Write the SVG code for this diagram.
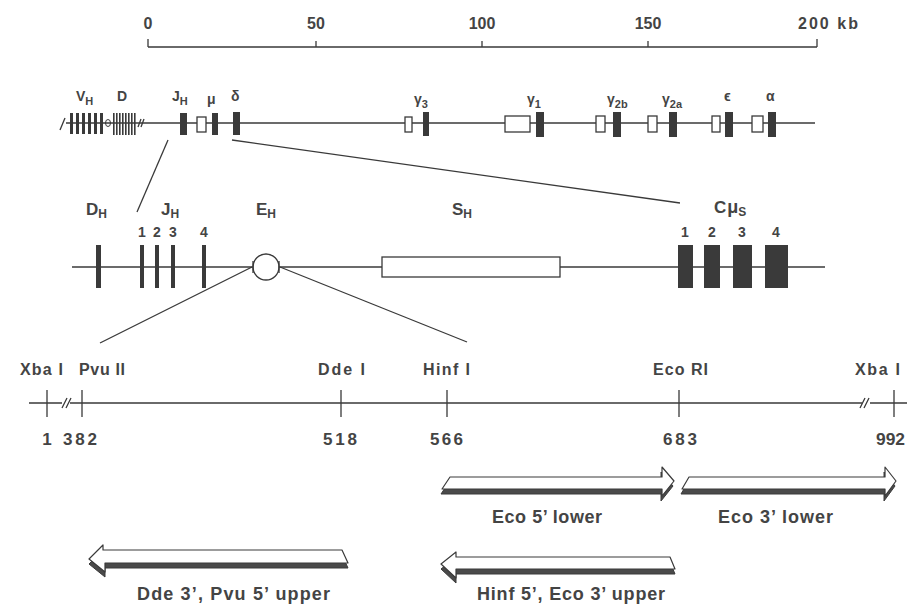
<svg xmlns="http://www.w3.org/2000/svg" width="907" height="604" viewBox="0 0 907 604">
<style>
.ln{stroke:#3a3a3a;stroke-width:1.3;fill:none}
.bar{fill:#3a3a3a}
.box{fill:#fff;stroke:#3a3a3a;stroke-width:1.3}
text{font-family:"Liberation Sans",Arial,sans-serif;fill:#444;font-weight:bold}
.sc{font-size:16px}
.g2{font-size:14px}
.g3{font-size:17px}
.r4{font-size:16px}
.nm{font-size:17px}
.al{font-size:18px}
.face{fill:#fff;stroke:#3a3a3a;stroke-width:1.2;stroke-linejoin:round}
.shad{fill:#4a4a4a;stroke:#3a3a3a;stroke-width:1}
</style>
<rect width="907" height="604" fill="#fff"/>

<g id="scale-bar">
<path class="ln" d="M148,47 H817 M148,39 V47 M316,41 V47 M482,41 V47 M648,41 V47 M817,39 V47"/>
<text class="sc" x="148" y="29" text-anchor="middle">0</text>
<text class="sc" x="316" y="29" text-anchor="middle">50</text>
<text class="sc" x="482" y="29" text-anchor="middle">100</text>
<text class="sc" x="648" y="29" text-anchor="middle">150</text>
<text class="sc" x="798" y="29" textLength="60" lengthAdjust="spacing">200 kb</text>
</g>

<g id="heavy-chain-locus">
<path class="ln" d="M148,123 H815"/>
<path class="ln" d="M60,130 L65,118"/>
<g class="bar">
<rect x="70" y="113" width="3" height="21"/>
<rect x="76" y="113" width="3" height="21"/>
<rect x="82" y="113" width="3" height="21"/>
<rect x="88" y="113" width="3" height="21"/>
<rect x="94" y="113" width="3" height="21"/>
<rect x="100" y="113" width="3" height="21"/>
</g>
<path class="ln" d="M66,123 H148"/>
<ellipse cx="108" cy="123" rx="2.5" ry="3.5" fill="none" stroke="#3a3a3a" stroke-width="1"/>
<g class="bar">
<rect x="113" y="113" width="1.6" height="22"/>
<rect x="116" y="113" width="1.6" height="22"/>
<rect x="119" y="113" width="1.6" height="22"/>
<rect x="122" y="113" width="1.6" height="22"/>
<rect x="125" y="113" width="1.6" height="22"/>
<rect x="128" y="113" width="1.6" height="22"/>
<rect x="131" y="113" width="1.6" height="22"/>
<rect x="134" y="113" width="1.6" height="22"/>
</g>
<path class="ln" d="M138,127 L141,119 M141,127 L144,119" stroke-width="1"/>
<rect class="bar" x="180" y="113" width="7" height="22"/>
<rect class="box" x="197" y="117" width="9" height="15"/>
<rect class="bar" x="212" y="113" width="6" height="22"/>
<rect class="bar" x="233" y="112" width="7" height="23"/>
<rect class="box" x="405" y="117" width="7" height="15"/>
<rect class="bar" x="423" y="112" width="6" height="24"/>
<rect class="box" x="505" y="116" width="25" height="16"/>
<rect class="bar" x="536" y="112" width="8" height="25"/>
<rect class="box" x="596" y="116" width="9" height="16"/>
<rect class="bar" x="613" y="112" width="8" height="25"/>
<rect class="box" x="648" y="116" width="9" height="16"/>
<rect class="bar" x="669" y="112" width="8" height="25"/>
<rect class="box" x="712" y="116" width="8" height="16"/>
<rect class="bar" x="725" y="112" width="8" height="25"/>
<rect class="box" x="752" y="116" width="11" height="16"/>
<rect class="bar" x="768" y="112" width="8" height="25"/>
<text class="g2" x="76" y="101">V<tspan font-size="11" dy="4">H</tspan></text>
<text class="g2" x="117" y="101">D</text>
<text class="g2" x="172" y="101">J<tspan font-size="11" dy="4">H</tspan></text>
<text class="g2" x="207" y="104" font-size="16">μ</text>
<text class="g2" x="231" y="101">δ</text>
<text class="g2" x="414" y="104">γ<tspan font-size="11" dy="4">3</tspan></text>
<text class="g2" x="527" y="104">γ<tspan font-size="11" dy="4">1</tspan></text>
<text class="g2" x="607" y="104">γ<tspan font-size="11" dy="4">2b</tspan></text>
<text class="g2" x="662" y="104">γ<tspan font-size="11" dy="4">2a</tspan></text>
<text class="g2" x="724" y="101">ϵ</text>
<text class="g2" x="766" y="101">α</text>
</g>

<g id="mu-region">
<path class="ln" d="M72,267 H825"/>
<rect class="bar" x="96" y="245" width="5" height="43"/>
<rect class="bar" x="140" y="245" width="4" height="43"/>
<rect class="bar" x="155" y="245" width="4" height="43"/>
<rect class="bar" x="171" y="245" width="4" height="43"/>
<rect class="bar" x="202" y="245" width="4" height="43"/>
<circle cx="266" cy="267" r="13" fill="#fff" stroke="#3a3a3a" stroke-width="1.3"/>
<path class="ln" d="M253,261 V273 M279,261 V273"/>
<rect class="box" x="382" y="257" width="178" height="20"/>
<rect class="bar" x="678" y="245" width="15" height="43"/>
<rect class="bar" x="704" y="245" width="16" height="43"/>
<rect class="bar" x="733" y="245" width="19" height="43"/>
<rect class="bar" x="765" y="245" width="23" height="43"/>
<text class="g3" x="86" y="215">D<tspan font-size="12" dy="3">H</tspan></text>
<text class="g3" x="161" y="215">J<tspan font-size="12" dy="3">H</tspan></text>
<text class="g3" x="256" y="215">E<tspan font-size="12" dy="3">H</tspan></text>
<text class="g3" x="452" y="215">S<tspan font-size="12" dy="3">H</tspan></text>
<text class="g3" x="714" y="213">C<tspan dx="1" font-size="18">μ</tspan><tspan font-size="12" dy="3">S</tspan></text>
<text class="g2" x="142" y="237" text-anchor="middle">1</text>
<text class="g2" x="157" y="237" text-anchor="middle">2</text>
<text class="g2" x="173" y="237" text-anchor="middle">3</text>
<text class="g2" x="204" y="237" text-anchor="middle">4</text>
<text class="g2" x="685" y="237" text-anchor="middle">1</text>
<text class="g2" x="712" y="237" text-anchor="middle">2</text>
<text class="g2" x="742" y="237" text-anchor="middle">3</text>
<text class="g2" x="776" y="237" text-anchor="middle">4</text>
</g>

<g id="connectors">
<path class="ln" d="M168,140 L137,212"/>
<path class="ln" d="M232,140 L680,203"/>
<path class="ln" d="M252,267 L100,343"/>
<path class="ln" d="M280,267 L467,342"/>
</g>

<g id="restriction-map">
<path class="ln" d="M29,403 H62 M70,403 H862 M870,403 H907"/>
<path class="ln" d="M62,408 L67,398 M66,408 L71,398 M860,408 L865,398 M864,408 L869,398" stroke-width="1"/>
<path class="ln" d="M47,390 V417 M82,390 V417 M341,390 V417 M447,390 V417 M679,390 V417 M894,390 V417"/>
<text class="r4" x="20" y="375" textLength="43" lengthAdjust="spacing">Xba I</text>
<text class="r4" x="79" y="375" textLength="46" lengthAdjust="spacing">Pvu II</text>
<text class="r4" x="318" y="375" textLength="47" lengthAdjust="spacing">Dde I</text>
<text class="r4" x="423" y="375" textLength="47" lengthAdjust="spacing">Hinf I</text>
<text class="r4" x="653" y="375" textLength="55" lengthAdjust="spacing">Eco RI</text>
<text class="r4" x="855" y="375" textLength="45" lengthAdjust="spacing">Xba I</text>
<text class="nm" x="47" y="445" text-anchor="middle">1</text>
<text class="nm" x="63" y="445" textLength="34" lengthAdjust="spacing">382</text>
<text class="nm" x="323" y="445" textLength="34" lengthAdjust="spacing">518</text>
<text class="nm" x="430" y="445" textLength="33" lengthAdjust="spacing">566</text>
<text class="nm" x="663" y="445" textLength="34" lengthAdjust="spacing">683</text>
<text class="nm" x="876" y="445" textLength="29" lengthAdjust="spacingAndGlyphs">992</text>
</g>

<g id="arrow-eco5-lower">
<path class="shad" d="M449,482 L661,482 L661,472 L673,486 L661,501 L661,494 L441,494 Z"/>
<path class="face" d="M450,477 L662,477 L662,467 L674,481 L662,496 L662,489 L442,489 Z"/>
<text class="al" x="492" y="523" textLength="110" lengthAdjust="spacing">Eco 5’ lower</text>
</g>

<g id="arrow-eco3-lower">
<path class="shad" d="M688,482 L884,482 L884,472 L895,486 L884,501 L884,494 L681,494 Z"/>
<path class="face" d="M689,477 L885,477 L885,467 L896,481 L885,496 L885,489 L682,489 Z"/>
<text class="al" x="718" y="523" textLength="115" lengthAdjust="spacing">Eco 3’ lower</text>
</g>

<g id="arrow-dde-pvu-upper">
<path class="shad" d="M89,564 L103,550 L103,555 L342,555 L348,568 L105,568 L105,577 Z"/>
<path class="face" d="M89,559 L103,545 L103,550 L342,550 L348,563 L105,563 L105,572 Z"/>
<text class="al" x="137" y="600" textLength="193" lengthAdjust="spacing">Dde 3’, Pvu 5’ upper</text>
</g>

<g id="arrow-hinf-eco-upper">
<path class="shad" d="M441,569 L456,557 L456,562 L670,562 L675,574 L456,574 L456,583 Z"/>
<path class="face" d="M441,564 L456,552 L456,557 L670,557 L675,569 L456,569 L456,578 Z"/>
<text class="al" x="477" y="600" textLength="188" lengthAdjust="spacing">Hinf 5’, Eco 3’ upper</text>
</g>
</svg>
